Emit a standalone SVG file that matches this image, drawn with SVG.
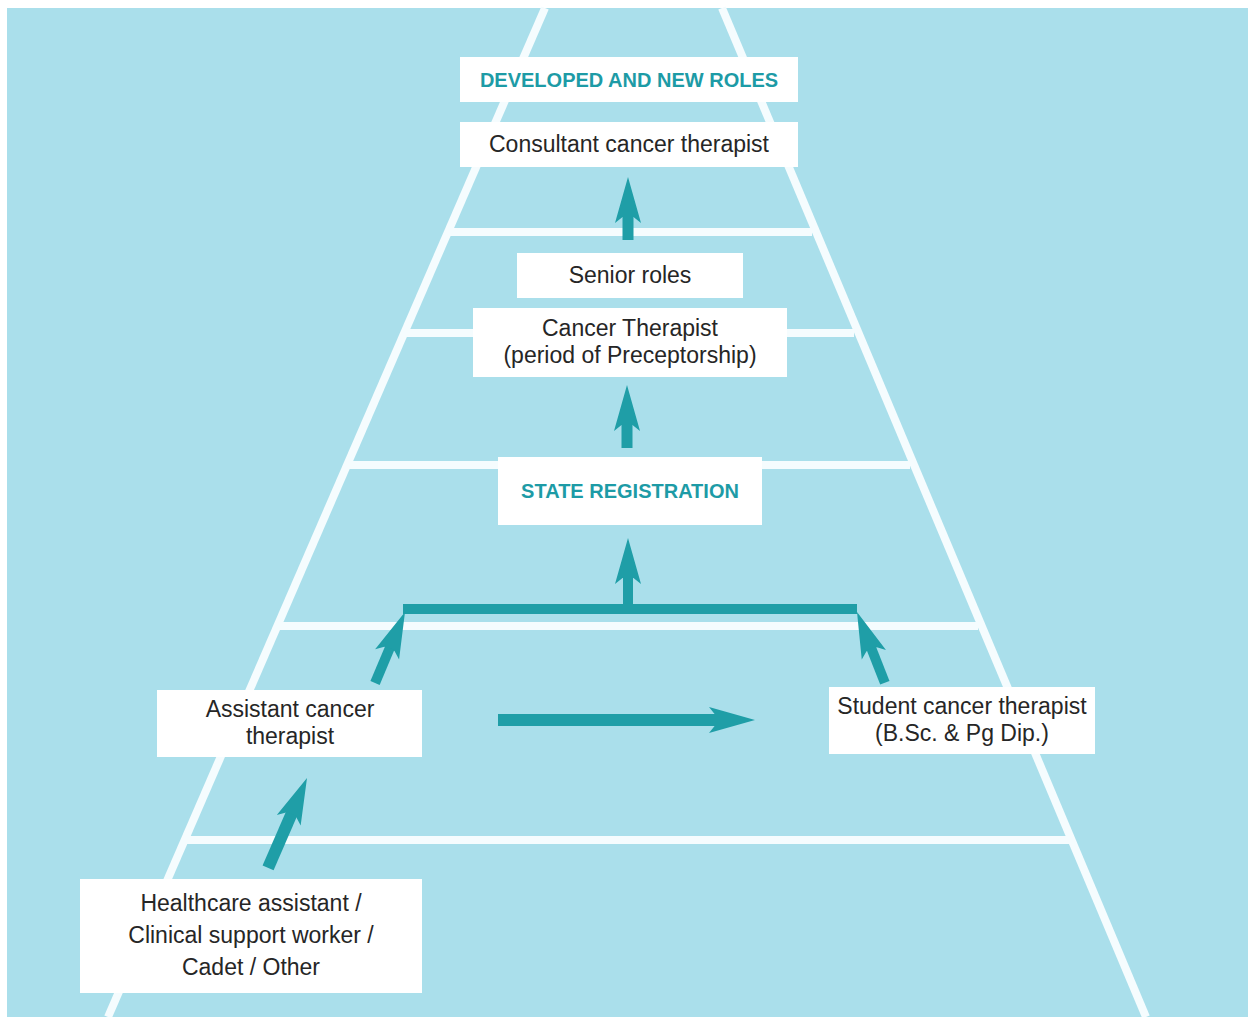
<svg xmlns="http://www.w3.org/2000/svg" xmlns:xlink="http://www.w3.org/1999/xlink" width="1248" height="1017" viewBox="0 0 1248 1017">
<style>
.bg{fill:#aadfeb}
.ln{stroke:#f5fcfe;stroke-width:8;fill:none}
.box{fill:#ffffff}
.t{font-family:"Liberation Sans",Arial,sans-serif;font-size:23px;fill:#262626;text-anchor:middle}
.h{font-family:"Liberation Sans",Arial,sans-serif;font-size:20px;font-weight:bold;fill:#1d9ba6;text-anchor:middle}
.ar{fill:#1f9ea7}
</style>
<defs>
<path id="ah" d="M0,0 L13,46 L5.5,40 L-5.5,40 L-13,46 Z"/>
</defs>
<rect x="0" y="0" width="1248" height="1017" fill="#ffffff"/>
<rect class="bg" x="7" y="8" width="1241" height="1009"/>
<g id="pyramid">
<line class="ln" x1="545" y1="8" x2="108" y2="1017"/>
<line class="ln" x1="722" y1="8" x2="1146" y2="1017"/>
<line class="ln" x1="446" y1="232" x2="812" y2="232"/>
<line class="ln" x1="403" y1="333" x2="854" y2="333"/>
<line class="ln" x1="346" y1="465" x2="910" y2="465"/>
<line class="ln" x1="277" y1="626" x2="978" y2="626"/>
<line class="ln" x1="184" y1="840" x2="1070" y2="840"/>
</g>
<g id="connectors" class="ar">
<g transform="translate(628,177)"><use xlink:href="#ah"/><rect x="-5.5" y="39" width="11" height="24"/></g>
<g transform="translate(627,385)"><use xlink:href="#ah"/><rect x="-5.5" y="39" width="11" height="24"/></g>
<g transform="translate(628,538)"><use xlink:href="#ah"/><rect x="-5" y="39" width="10" height="33"/></g>
<rect x="403" y="604" width="454" height="10"/>
<g transform="translate(405,612) rotate(22.9)"><use xlink:href="#ah"/><rect x="-5" y="39" width="10" height="38"/></g>
<g transform="translate(857,612) rotate(-21.5)"><use xlink:href="#ah"/><rect x="-5" y="39" width="10" height="37"/></g>
<g transform="translate(755,720) rotate(90)"><use xlink:href="#ah"/><rect x="-6" y="39" width="12" height="218"/></g>
<g transform="translate(307,778) rotate(23.4)"><use xlink:href="#ah"/><rect x="-6" y="39" width="12" height="59"/></g>
</g>
<g id="n-developed"><rect class="box" x="460" y="57" width="338" height="45"/><text class="h" x="629" y="87">DEVELOPED AND NEW ROLES</text></g>
<g id="n-consultant"><rect class="box" x="460" y="122" width="338" height="45"/><text class="t" x="629" y="152">Consultant cancer therapist</text></g>
<g id="n-senior"><rect class="box" x="517" y="253" width="226" height="45"/><text class="t" x="630" y="283">Senior roles</text></g>
<g id="n-therapist"><rect class="box" x="473" y="308" width="314" height="69"/><text class="t" x="630" y="336">Cancer Therapist</text><text class="t" x="630" y="363">(period of Preceptorship)</text></g>
<g id="n-state"><rect class="box" x="498" y="457" width="264" height="68"/><text class="h" x="630" y="498">STATE REGISTRATION</text></g>
<g id="n-assistant"><rect class="box" x="157" y="690" width="265" height="67"/><text class="t" x="290" y="717">Assistant cancer</text><text class="t" x="290" y="744">therapist</text></g>
<g id="n-student"><rect class="box" x="829" y="687" width="266" height="67"/><text class="t" x="962" y="714">Student cancer therapist</text><text class="t" x="962" y="741">(B.Sc. &amp; Pg Dip.)</text></g>
<g id="n-healthcare"><rect class="box" x="80" y="879" width="342" height="114"/><text class="t" x="251" y="911">Healthcare assistant /</text><text class="t" x="251" y="943">Clinical support worker /</text><text class="t" x="251" y="975">Cadet / Other</text></g>
</svg>
